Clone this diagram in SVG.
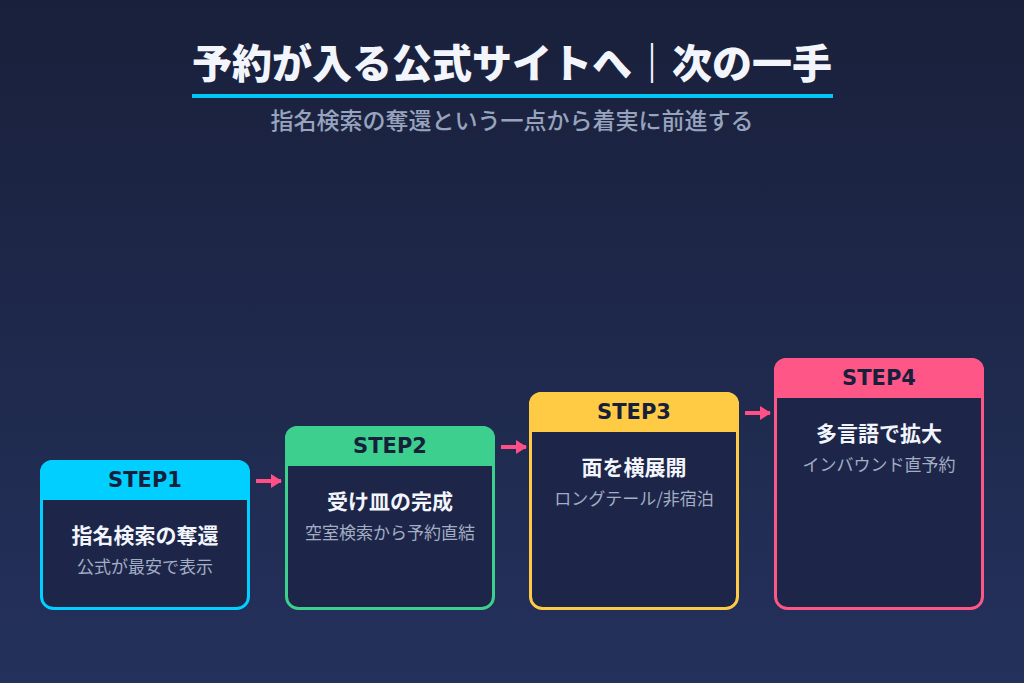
<svg xmlns="http://www.w3.org/2000/svg" width="1024" height="683" viewBox="0 0 1024 683">
<defs>
<linearGradient id="bg" x1="0" y1="0" x2="0" y2="1">
<stop offset="0" stop-color="#19203b"/>
<stop offset="1" stop-color="#24315c"/>
</linearGradient>
<marker id="ah" markerWidth="11" markerHeight="14" refX="10" refY="7" orient="auto" markerUnits="userSpaceOnUse">
<path d="M0,0 L11,7 L0,14 Z" fill="#ff4f86"/>
</marker>
<style>
.jp{font-family:"Noto Sans CJK JP","Noto Sans",sans-serif}
.title{font-size:40px;font-weight:900;fill:#f2f5fc}
.sub{font-size:23px;font-weight:500;fill:#98a3bd}
.box{fill:#1d2649;stroke-width:3}
.hdr{font-family:"DejaVu Sans",sans-serif;font-size:21px;font-weight:700;fill:#17203b}
.nt{font-size:21px;font-weight:700;fill:#f2f5fc}
.ns{font-size:17px;font-weight:400;fill:#a3adc4}
.conn{stroke:#ff4f86;stroke-width:4;fill:none}
</style>
</defs>
<rect width="1024" height="683" fill="url(#bg)"/>
<g id="header">
<text class="jp title" x="512" y="78" text-anchor="middle">予約が入る公式サイトへ｜次の一手</text>
<rect x="192" y="94" width="641" height="4" fill="#00c8f5"/>
<text class="jp sub" x="512" y="129" text-anchor="middle">指名検索の奪還という一点から着実に前進する</text>
</g>
<g id="step1">
<rect class="box" x="41.5" y="461.5" width="207" height="147" rx="12" stroke="#00cfff"/>
<path d="M40,500 V472 a12,12 0 0 1 12,-12 H238 a12,12 0 0 1 12,12 V500 Z" fill="#00cfff"/>
<text class="hdr" x="145" y="487" text-anchor="middle">STEP1</text>
<text class="jp nt" x="145" y="543" text-anchor="middle">指名検索の奪還</text>
<text class="jp ns" x="145" y="573" text-anchor="middle">公式が最安で表示</text>
</g>
<g id="step2">
<rect class="box" x="286.5" y="427.5" width="207" height="181" rx="12" stroke="#3dcf8e"/>
<path d="M285,466 V438 a12,12 0 0 1 12,-12 H483 a12,12 0 0 1 12,12 V466 Z" fill="#3dcf8e"/>
<text class="hdr" x="390" y="453" text-anchor="middle">STEP2</text>
<text class="jp nt" x="390" y="509" text-anchor="middle">受け皿の完成</text>
<text class="jp ns" x="390" y="539" text-anchor="middle">空室検索から予約直結</text>
</g>
<g id="step3">
<rect class="box" x="530.5" y="393.5" width="207" height="215" rx="12" stroke="#ffcb45"/>
<path d="M529,432 V404 a12,12 0 0 1 12,-12 H727 a12,12 0 0 1 12,12 V432 Z" fill="#ffcb45"/>
<text class="hdr" x="634" y="419" text-anchor="middle">STEP3</text>
<text class="jp nt" x="634" y="475" text-anchor="middle">面を横展開</text>
<text class="jp ns" x="634" y="505" text-anchor="middle">ロングテール/非宿泊</text>
</g>
<g id="step4">
<rect class="box" x="775.5" y="359.5" width="207" height="249" rx="12" stroke="#ff5688"/>
<path d="M774,398 V370 a12,12 0 0 1 12,-12 H972 a12,12 0 0 1 12,12 V398 Z" fill="#ff5688"/>
<text class="hdr" x="879" y="385" text-anchor="middle">STEP4</text>
<text class="jp nt" x="879" y="441" text-anchor="middle">多言語で拡大</text>
<text class="jp ns" x="879" y="471" text-anchor="middle">インバウンド直予約</text>
</g>
<g id="connectors">
<line class="conn" x1="256" y1="481" x2="281" y2="481" marker-end="url(#ah)"/>
<line class="conn" x1="501" y1="447" x2="526" y2="447" marker-end="url(#ah)"/>
<line class="conn" x1="745" y1="413" x2="770" y2="413" marker-end="url(#ah)"/>
</g>
</svg>
